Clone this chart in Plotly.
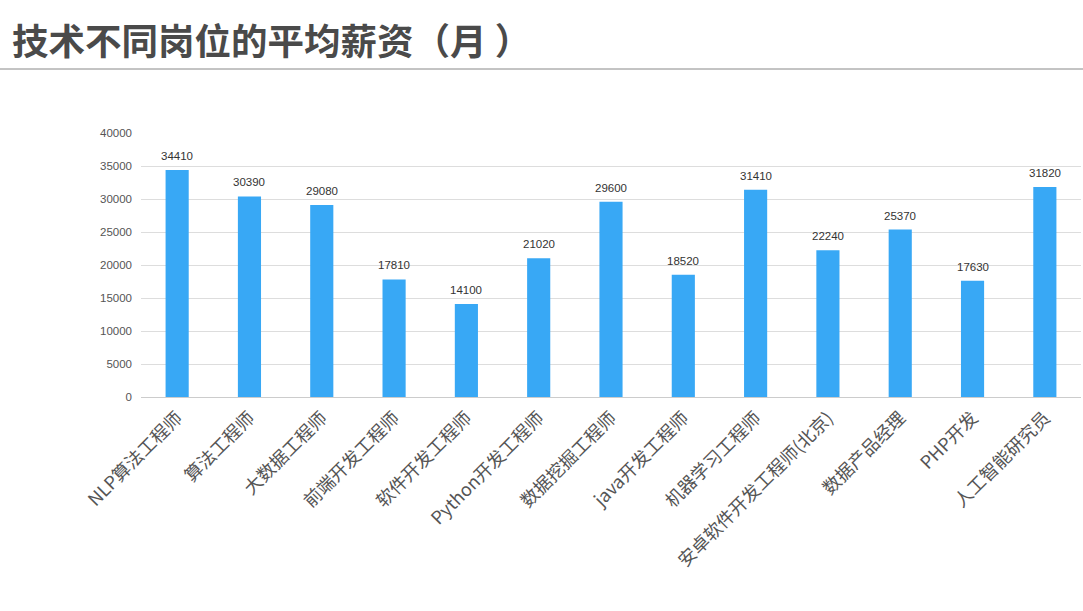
import plotly.graph_objects as go

# Data
positions = ["NLP算法工程师", "算法工程师", "大数据工程师", "前端开发工程师", "软件开发工程师",
             "Python开发工程师", "数据挖掘工程师", "java开发工程师", "机器学习工程师",
             "安卓软件开发工程师(北京)", "数据产品经理", "PHP开发", "人工智能研究员"]
salaries = [34410, 30390, 29080, 17810, 14100, 21020, 29600, 18520, 31410, 22240, 25370, 17630, 31820]
y_ticks = [0, 5000, 10000, 15000, 20000, 25000, 30000, 35000, 40000]

W, H = 1083, 611
L, R, T, B = 141, 2, 133, 214
plot_w = W - L - R
plot_h = H - T - B

fig = go.Figure(go.Bar(
    x=positions, y=salaries,
    marker=dict(color="#38A8F5", line=dict(width=0)),
    cliponaxis=False,
    width=0.32,
))

# value labels above bars
labels = [dict(x=p, y=v, text=str(v), xref="x", yref="y", showarrow=False,
               yanchor="bottom", yshift=6,
               font=dict(size=11.5, color="#333333", family="Liberation Sans, Arial, sans-serif"))
          for p, v in zip(positions, salaries)]

title = dict(
    text="<b>技术不同岗位的平均薪资（月\u00a0）</b>",
    xref="paper", yref="paper",
    x=-(L - 10) / plot_w, y=(H - B - 39) / plot_h,
    xanchor="left", yanchor="middle", showarrow=False,
    font=dict(size=36.5, color="#4a4a4a", family="Noto Sans CJK SC, sans-serif"),
)

fig.update_layout(
    width=W, height=H,
    margin=dict(l=L, r=R, t=T, b=B),
    paper_bgcolor="white", plot_bgcolor="white",
    font=dict(family="Noto Sans CJK SC, Arial, sans-serif", color="#555555"),
    showlegend=False,
    xaxis=dict(
        tickangle=-45,
        tickfont=dict(size=18, color="#555555", family="Noto Sans CJK SC, Liberation Sans, sans-serif"),
        showline=False, ticks="", showgrid=False, ticklabelstandoff=6,
    ),
    yaxis=dict(
        range=[0, 40000], tickvals=y_ticks, tickformat="d",
        tickfont=dict(size=11.5, color="#555555", family="Liberation Sans, Arial, sans-serif"),
        gridcolor="#dddddd", gridwidth=1,
        zeroline=True, zerolinecolor="#cccccc", zerolinewidth=1,
        ticks="", ticklabelstandoff=8,
    ),
    annotations=labels + [title],
    shapes=[dict(
        type="line", xref="paper", yref="paper",
        x0=-L / plot_w, x1=(W - L) / plot_w,
        y0=(H - B - 69) / plot_h, y1=(H - B - 69) / plot_h,
        line=dict(color="#888888", width=1),
    )],
)

fig.write_html("out.html", config={"displayModeBar": False},
               post_script="document.body.style.margin='0';")
